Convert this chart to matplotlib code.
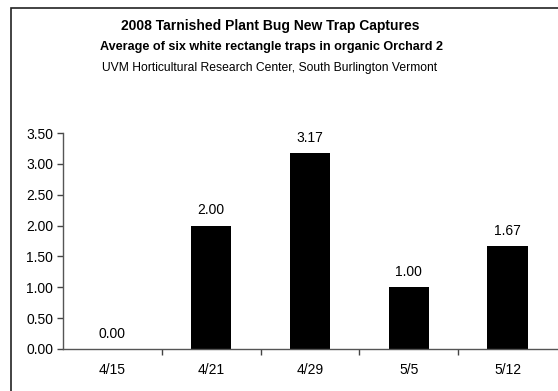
import matplotlib.pyplot as plt
from matplotlib.patches import Rectangle
import numpy as np

plt.rcParams['font.family'] = ['Liberation Sans', 'DejaVu Sans']

# Trap capture data
dates = ['4/15', '4/21', '4/29', '5/5', '5/12']
captures = [0.00, 2.00, 3.17, 1.00, 1.67]

fig = plt.figure(figsize=(5.58, 3.91), dpi=100)

# Outer chart border
fig.patches.append(Rectangle((11 / 558, -0.05), 1.1, 1 - 8 / 391 + 0.05,
                             transform=fig.transFigure, fill=False,
                             edgecolor='#222222', linewidth=1.2))

ax = fig.add_axes([63 / 558, 1 - 349 / 391, 494 / 558, 216 / 391])

x = np.arange(len(dates))
bars = ax.bar(x, captures, width=0.41, color='black')

for xi, val in zip(x, captures):
    ax.annotate(f'{val:.2f}', (xi, val), xytext=(0, 6), textcoords='offset points',
                ha='center', va='bottom', fontsize=10)

ax.set_xlim(-0.5, len(dates) - 0.5)
ax.set_ylim(0, 3.5)
ax.set_yticks(np.arange(0, 3.51, 0.5))
ax.set_yticklabels([f'{v:.2f}' for v in np.arange(0, 3.51, 0.5)], fontsize=10)

ax.set_xticks(x)
ax.set_xticklabels(dates, fontsize=10)
ax.tick_params(axis='x', which='major', length=0, pad=10)
ax.set_xticks(np.arange(0.5, len(dates) - 0.5, 1), minor=True)
ax.tick_params(axis='x', which='minor', length=4, width=1, color='#444444')
ax.tick_params(axis='y', length=4, width=1, color='#444444', pad=3)

for side in ['top', 'right']:
    ax.spines[side].set_visible(False)
for side in ['left', 'bottom']:
    ax.spines[side].set_color('#555555')
    ax.spines[side].set_linewidth(1)

fig.text(270 / 558, 1 - 26 / 391, '2008 Tarnished Plant Bug New Trap Captures',
         ha='center', va='center', fontsize=10, fontweight='bold')
fig.text(271 / 558, 1 - 47 / 391, 'Average of six white rectangle traps in organic Orchard 2',
         ha='center', va='center', fontsize=9.1, fontweight='bold')
fig.text(270 / 558, 1 - 68 / 391, 'UVM Horticultural Research Center, South Burlington Vermont',
         ha='center', va='center', fontsize=8.7)

fig.savefig('out.png', dpi=100)
